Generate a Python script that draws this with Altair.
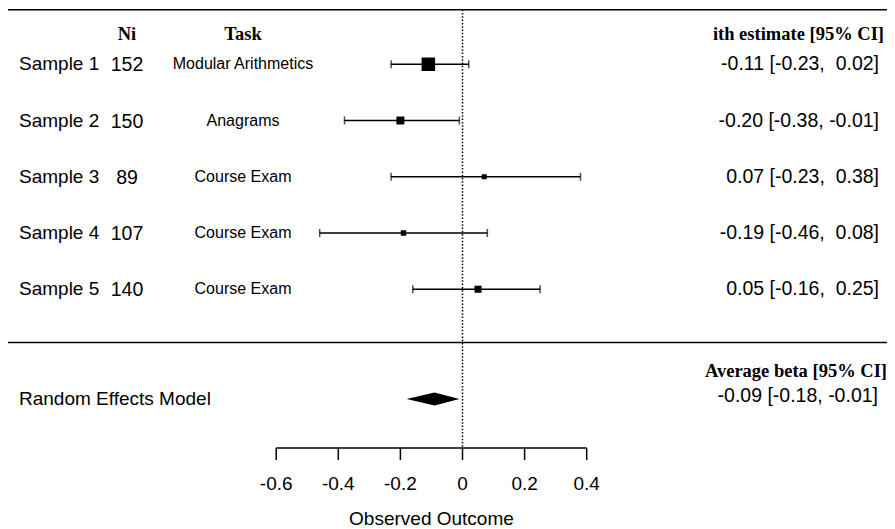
import altair as alt
import pandas as pd

# ---------------- data ----------------
samples = ["Sample 1", "Sample 2", "Sample 3", "Sample 4", "Sample 5"]
ni = [152, 150, 89, 107, 140]
tasks = ["Modular Arithmetics", "Anagrams", "Course Exam", "Course Exam", "Course Exam"]
est = [-0.11, -0.20, 0.07, -0.19, 0.05]
ci_lb = [-0.23, -0.38, -0.23, -0.46, -0.16]
ci_ub = [0.02, -0.01, 0.38, 0.08, 0.25]

re_label = "Random Effects Model"
re_est, re_lb, re_ub = -0.09, -0.18, -0.01

tick_values = [-0.6, -0.4, -0.2, 0.0, 0.2, 0.4]
tick_labels = ["-0.6", "-0.4", "-0.2", "0", "0.2", "0.4"]

hdr_ni, hdr_task, hdr_est, hdr_avg = "Ni", "Task", "ith estimate [95% CI]", "Average beta [95% CI]"
x_title = "Observed Outcome"

# ---------------- layout ----------------
W, H = 879, 521
PX_PER_UNIT = 310.5
ZERO_X = 454.5
ROW_PX = 56.25
x_dom = [-ZERO_X / PX_PER_UNIT, (W - ZERO_X) / PX_PER_UNIT]
y_dom = [0, H / ROW_PX]
XS = alt.Scale(domain=x_dom, nice=False, zero=False)
YS = alt.Scale(domain=y_dom, nice=False, zero=False, reverse=True)

Y_TOP, Y_HDR, Y_SEP, Y_AVG_HDR, Y_RE = 0.03, 0.46, 5.947, 6.45, 6.95
Y_AXIS, Y_TICK_END, Y_TICK_LAB, Y_TITLE = 7.822, 8.036, 8.46, 9.08

SANS = "Liberation Sans"
SERIF = "Liberation Serif"


def fmt(e, lb, ub):
    s = f"{e:.2f} [{lb:5.2f}, {ub:5.2f}]"
    return s.replace(" ", "\u00a0")


rows = list(range(1, len(samples) + 1))
# inverse-variance weights -> square side (linear in weight)
se = [(u - l) / 3.92 for l, u in zip(ci_lb, ci_ub)]
w = [1 / s ** 2 for s in se]
wmin, wmax = min(w), max(w)
side = [5 + (wi - wmin) / (wmax - wmin) * 8.5 for wi in w]

df = pd.DataFrame({
    "row": rows, "sample": samples, "ni": [str(n) for n in ni], "task": tasks,
    "est": est, "lb": ci_lb, "ub": ci_ub,
    "label": [fmt(e, l, u) for e, l, u in zip(est, ci_lb, ci_ub)],
    "area": [s ** 2 for s in side],
})

base = alt.Chart(df)
x_enc = lambda f: alt.X(f, type="quantitative", scale=XS, axis=None)
y_enc = lambda f: alt.Y(f, type="quantitative", scale=YS, axis=None)

hlines = alt.Chart(pd.DataFrame({"y": [Y_TOP, Y_SEP]})).mark_rule(
    color="black", strokeWidth=1.6).encode(
    y=y_enc("y"), x=alt.value(0), x2=alt.value(882))

ref = alt.Chart(pd.DataFrame({"x": [0.0], "y": [Y_TOP], "y2": [Y_AXIS]})).mark_rule(
    color="black", strokeWidth=1.5, strokeDash=[1.5, 1.8]).encode(
    x=x_enc("x"), y=y_enc("y"), y2="y2")

ci = base.mark_rule(color="black", strokeWidth=1.4).encode(
    x=x_enc("lb"), x2="ub", y=y_enc("row"))
cap_l = base.mark_tick(orient="vertical", color="black", size=8, thickness=1.5).encode(
    x=x_enc("lb"), y=y_enc("row"))
cap_u = base.mark_tick(orient="vertical", color="black", size=8, thickness=1.5).encode(
    x=x_enc("ub"), y=y_enc("row"))
squares = base.mark_square(color="black", opacity=1, filled=True).encode(
    x=x_enc("est"), y=y_enc("row"), size=alt.Size("area", type="quantitative", scale=None))

h = 6.5 / ROW_PX
dia = alt.Chart(pd.DataFrame({
    "x": [re_lb, re_est, re_ub],
    "y": [Y_RE, Y_RE - h, Y_RE],
    "y2": [Y_RE, Y_RE + h, Y_RE],
})).mark_area(color="black", orient="vertical", opacity=1).encode(
    x=x_enc("x"), y=y_enc("y"), y2="y2")

t_sample = base.mark_text(align="left", baseline="middle", font=SANS, fontSize=19, color="black").encode(
    x=alt.value(11), y=y_enc("row"), text="sample")
t_ni = base.mark_text(align="center", baseline="middle", font=SANS, fontSize=19.5, color="black").encode(
    x=alt.value(119), y=alt.Y("r2:Q", scale=YS, axis=None), text="ni").transform_calculate(r2="datum.row + 0.02")
t_task = base.mark_text(align="center", baseline="middle", font=SANS, fontSize=16, color="black").encode(
    x=alt.value(235), y=y_enc("row"), text="task")
t_est = base.mark_text(align="right", baseline="middle", font=SANS, fontSize=19.5, color="black").encode(
    x=alt.value(871), y=y_enc("row"), text="label")

hdrs = alt.Chart(pd.DataFrame({
    "t": [hdr_ni, hdr_task, hdr_est, hdr_avg],
    "xp": [119, 235, 876, 879],
    "y": [Y_HDR, Y_HDR, Y_HDR, Y_AVG_HDR],
    "al": ["center", "center", "right", "right"],
}))
h_center = hdrs.transform_filter("datum.al == 'center'").mark_text(
    align="center", baseline="middle", font=SERIF, fontWeight="bold", fontSize=18.5, color="black").encode(
    x=alt.X("xp:Q", scale=None, axis=None), y=y_enc("y"), text="t")
h_right = hdrs.transform_filter("datum.al == 'right'").mark_text(
    align="right", baseline="middle", font=SERIF, fontWeight="bold", fontSize=18.5, color="black").encode(
    x=alt.X("xp:Q", scale=None, axis=None), y=y_enc("y"), text="t")

re_df = pd.DataFrame({"y": [Y_RE], "lab": [re_label], "val": [fmt(re_est, re_lb, re_ub)]})
t_re = alt.Chart(re_df).mark_text(align="left", baseline="middle", font=SANS, fontSize=19, color="black").encode(
    x=alt.value(11), y=y_enc("y"), text="lab")
t_re_val = alt.Chart(re_df).mark_text(align="right", baseline="middle", font=SANS, fontSize=19.5, color="black").encode(
    x=alt.value(870), y=alt.Y("y2:Q", scale=YS, axis=None), text="val").transform_calculate(y2="datum.y - 0.06")

ax_df = pd.DataFrame({"x": [tick_values[0]], "x2": [tick_values[-1]], "y": [Y_AXIS]})
ax_line = alt.Chart(ax_df).mark_rule(color="black", strokeWidth=1.5).encode(
    x=x_enc("x"), x2="x2", y=y_enc("y"))
tk_df = pd.DataFrame({"x": tick_values, "lab": tick_labels, "y": Y_AXIS, "y2": Y_TICK_END, "yl": Y_TICK_LAB})
ax_ticks = alt.Chart(tk_df).mark_rule(color="black", strokeWidth=1.5).encode(
    x=x_enc("x"), y=y_enc("y"), y2="y2")
ax_labels = alt.Chart(tk_df).mark_text(baseline="middle", align="center", font=SANS, fontSize=19, color="black").encode(
    x=x_enc("x"), y=y_enc("yl"), text="lab")
ttl = alt.Chart(pd.DataFrame({"x": [(tick_values[0] + tick_values[-1]) / 2], "y": [Y_TITLE], "t": [x_title]})).mark_text(
    baseline="middle", align="center", font=SANS, fontSize=19, color="black").encode(
    x=x_enc("x"), y=y_enc("y"), text="t")

chart = alt.layer(
    hlines, ref, ci, cap_l, cap_u, squares, dia,
    t_sample, t_ni, t_task, t_est, h_center, h_right, t_re, t_re_val,
    ax_line, ax_ticks, ax_labels, ttl,
).properties(
    width=W, height=H, autosize=alt.AutoSizeParams(type="none"), padding=0,
    background="white",
).configure_view(stroke=None)

chart.save("out.html", embed_options={"renderer": "svg", "actions": False})
